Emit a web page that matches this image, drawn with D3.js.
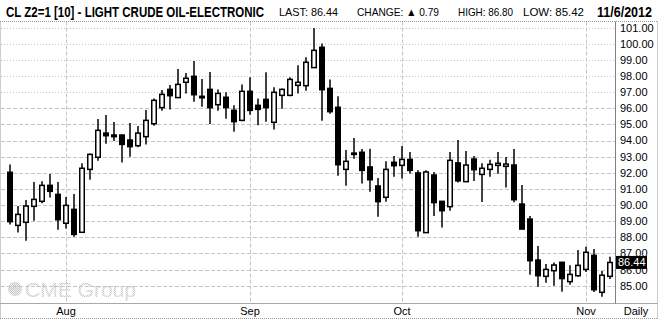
<!DOCTYPE html>
<html><head><meta charset="utf-8">
<script src="https://cdn.jsdelivr.net/npm/d3@7"></script>
<style>html,body{margin:0;padding:0;background:#fff;}svg{display:block;}</style>
</head><body>
<script>
const dates = [
"2012-07-23","2012-07-24","2012-07-25","2012-07-26","2012-07-27","2012-07-30","2012-07-31",
"2012-08-01","2012-08-02","2012-08-03","2012-08-06","2012-08-07","2012-08-08","2012-08-09","2012-08-10",
"2012-08-13","2012-08-14","2012-08-15","2012-08-16","2012-08-17","2012-08-20","2012-08-21","2012-08-22",
"2012-08-23","2012-08-24","2012-08-27","2012-08-28","2012-08-29","2012-08-30","2012-08-31",
"2012-09-04","2012-09-05","2012-09-06","2012-09-07","2012-09-10","2012-09-11","2012-09-12","2012-09-13",
"2012-09-14","2012-09-17","2012-09-18","2012-09-19","2012-09-20","2012-09-21","2012-09-24","2012-09-25",
"2012-09-26","2012-09-27","2012-09-28",
"2012-10-01","2012-10-02","2012-10-03","2012-10-04","2012-10-05","2012-10-08","2012-10-09","2012-10-10",
"2012-10-11","2012-10-12","2012-10-15","2012-10-16","2012-10-17","2012-10-18","2012-10-19","2012-10-22",
"2012-10-23","2012-10-24","2012-10-25","2012-10-26","2012-10-29","2012-10-30","2012-10-31",
"2012-11-01","2012-11-02","2012-11-05","2012-11-06"];
const openV  = [92.03,88.74,88.93,89.92,90.23,91.22,90.66,88.87,89.73,88.31,92.21,92.96,94.46,94.34,94.34,94.03,93.68,94.24,95.04,96.04,
97.17,96.66,97.61,97.98,96.74,97.17,96.22,96.68,95.87,95.25,97.05,96.18,96.55,95.13,96.80,96.80,97.42,97.40,98.52,99.78,
97.23,96.06,92.21,93.22,93.27,92.36,91.18,90.48,92.65,92.46,92.83,91.99,88.29,91.86,90.23,89.90,92.61,91.45,92.85,91.90,
92.21,92.46,92.40,92.48,90.06,89.13,86.59,85.58,85.93,86.45,85.25,85.62,86.01,86.88,84.59,85.58];
const highV  = [92.52,89.94,90.31,91.43,91.47,91.92,91.43,90.50,90.68,92.59,93.20,95.33,95.58,95.15,94.38,95.09,94.90,95.89,96.61,97.13,
97.44,98.43,98.19,98.93,97.81,98.25,97.17,96.99,96.18,97.48,97.92,96.61,98.23,97.30,97.23,97.92,98.66,99.16,100.98,100.02,
97.79,96.74,93.41,94.16,93.47,93.49,91.67,92.71,93.04,93.66,93.29,92.15,92.15,92.05,90.23,93.29,94.03,93.35,93.04,92.59,
92.81,93.29,92.98,93.47,91.24,89.32,87.46,86.34,86.43,86.47,86.26,87.21,87.42,87.27,85.91,86.80];
const lowV   = [88.80,88.29,87.79,89.03,90.11,90.46,88.47,88.54,88.04,88.31,91.57,92.75,93.80,93.97,92.63,93.00,93.58,93.76,94.92,95.85,
95.93,96.66,96.92,96.41,96.10,95.02,95.85,95.35,94.55,95.19,95.60,94.94,95.17,94.69,95.97,96.74,96.92,97.09,98.52,95.23,
95.66,91.82,91.20,92.87,91.33,90.83,89.28,90.21,91.76,91.64,91.95,88.04,88.29,89.32,88.60,89.65,91.39,91.45,91.49,90.19,
91.76,91.94,91.08,90.17,88.51,85.68,84.94,85.19,85.00,84.63,85.06,85.56,85.85,84.61,84.32,85.42];
const closeV = [88.97,89.42,89.94,90.35,91.22,90.85,89.09,89.98,88.18,92.28,93.14,94.63,94.30,94.24,93.76,93.62,94.46,95.25,96.49,96.86,
96.78,97.48,97.86,96.84,96.65,96.04,96.92,96.04,95.17,97.05,95.87,95.93,96.04,96.99,97.17,97.79,97.61,98.85,99.59,97.15,
95.79,92.50,92.71,93.14,92.15,91.57,90.21,92.21,92.44,92.83,92.15,88.41,92.05,90.15,89.65,92.77,91.50,92.48,92.19,92.28,
92.52,92.59,92.54,90.33,88.51,86.55,85.62,86.01,86.28,85.44,85.70,86.26,87.07,84.75,85.65,86.44];
const yTicks = [85,86,87,88,89,90,91,92,93,94,95,96,97,98,99,100,101];
const monthTicks = ["2012-08-01","2012-09-04","2012-10-01","2012-11-01"];
const monthLabels = ["Aug","Sep","Oct","Nov"];
const lastPrice = 86.44;
const headerTitle = "CL Z2=1 [10] - LIGHT CRUDE OIL-ELECTRONIC";
const headerItems = ["LAST: 86.44","CHANGE: \u25B2 0.79","HIGH: 86.80","LOW: 85.42"];
const headerDate = "11/6/2012";

const W = 661, H = 323;
const plotTop = 21.5, plotBottom = 303.5, axisX = 615.5, rightEdge = 657.5, bottomEdge = 318.5;
const svg = d3.select("body").append("svg").attr("width", W).attr("height", H);

const x = d3.scalePoint().domain(dates).range([10, 610]);
const y = d3.scaleLinear().domain([84, 102]).range([76 + 14*16.13, 76 - 4*16.13]);

// watermark pattern
const defs = svg.append("defs");
const pat = defs.append("pattern").attr("id","dots").attr("width",2).attr("height",2).attr("patternUnits","userSpaceOnUse");
pat.append("rect").attr("width",2).attr("height",2).attr("fill","#f2f2f2");
pat.append("rect").attr("width",1).attr("height",1).attr("fill","#c4c4c4");
pat.append("rect").attr("x",1).attr("y",1).attr("width",1).attr("height",1).attr("fill","#c4c4c4");

const wm = svg.append("g");
wm.append("circle").attr("cx",15).attr("cy",289).attr("r",7).attr("fill","url(#dots)");
wm.append("text").attr("x",25).attr("y",297).attr("font-family","Liberation Sans, Arial, sans-serif")
  .attr("font-size",21).attr("fill","url(#dots)").attr("textLength",111).attr("lengthAdjust","spacingAndGlyphs").text("CME Group");

// horizontal grid
svg.append("g").selectAll("line").data(yTicks).join("line")
  .attr("x1", 1).attr("x2", axisX)
  .attr("y1", d => Math.round(y(d)) + 0.5).attr("y2", d => Math.round(y(d)) + 0.5)
  .attr("stroke", "#c4c4c4").attr("stroke-width", 1)
  .attr("stroke-dasharray", d => d >= 97 ? "1,2" : "4,2");

// vertical month grid
svg.append("g").selectAll("line").data(monthTicks).join("line")
  .attr("x1", d => Math.round(x(d)) + 0.5).attr("x2", d => Math.round(x(d)) + 0.5)
  .attr("y1", plotTop).attr("y2", plotBottom)
  .attr("stroke", "#c4c4c4").attr("stroke-dasharray", "4,2");

// borders
const border = svg.append("g").attr("stroke","#9a9a9a").attr("stroke-dasharray","1,1").attr("fill","none");
border.append("line").attr("x1",0).attr("x2",rightEdge).attr("y1",plotTop).attr("y2",plotTop);
border.append("line").attr("x1",0).attr("x2",rightEdge).attr("y1",bottomEdge).attr("y2",bottomEdge);
border.append("line").attr("x1",rightEdge).attr("x2",rightEdge).attr("y1",plotTop).attr("y2",bottomEdge);
border.append("line").attr("x1",0.5).attr("x2",0.5).attr("y1",plotTop).attr("y2",bottomEdge);
svg.append("line").attr("x1",0).attr("x2",rightEdge).attr("y1",plotBottom).attr("y2",plotBottom).attr("stroke","#a8a8a8");
svg.append("line").attr("x1",axisX).attr("x2",axisX).attr("y1",plotTop).attr("y2",plotBottom).attr("stroke","#808080");

// candles
const idx = d3.range(dates.length);
const cg = svg.append("g");
cg.selectAll("line").data(idx).join("line")
  .attr("x1", i => x(dates[i])).attr("x2", i => x(dates[i]))
  .attr("y1", i => y(highV[i])).attr("y2", i => y(lowV[i]))
  .attr("stroke", "#000").attr("stroke-width", 1.5);
cg.selectAll("rect").data(idx).join("rect")
  .attr("x", i => x(dates[i]) - 2.25).attr("width", 4.5)
  .attr("y", i => y(Math.max(openV[i], closeV[i])))
  .attr("height", i => Math.max(1, y(Math.min(openV[i], closeV[i])) - y(Math.max(openV[i], closeV[i]))))
  .attr("fill", i => closeV[i] >= openV[i] ? "#fff" : "#000")
  .attr("stroke", "#000").attr("stroke-width", 1.5);

// y labels
svg.append("g").selectAll("text").data(yTicks).join("text")
  .attr("x", 620).attr("y", d => y(d)).attr("dy", "0.36em")
  .attr("font-family", "Liberation Sans, Arial, sans-serif").attr("font-size", 11).attr("fill", "#000")
  .text(d => d.toFixed(2));

// last price box
const ly = y(lastPrice);
svg.append("rect").attr("x", 616).attr("y", ly - 6.5).attr("width", 31).attr("height", 13).attr("fill", "#000");
svg.append("text").attr("x", 618).attr("y", ly).attr("dy","0.36em")
  .attr("font-family", "Liberation Sans, Arial, sans-serif").attr("font-size", 11).attr("fill", "#fff").text(lastPrice.toFixed(2));

// x labels
svg.append("g").selectAll("text").data(monthTicks).join("text")
  .attr("x", d => x(d)).attr("y", 315).attr("text-anchor","middle")
  .attr("font-family", "Liberation Sans, Arial, sans-serif").attr("font-size", 11).attr("fill","#000")
  .text((d,i) => monthLabels[i]);
svg.append("text").attr("x", 636).attr("y", 315).attr("text-anchor","middle")
  .attr("font-family", "Liberation Sans, Arial, sans-serif").attr("font-size", 11).text("Daily");

// header
const hf = "Liberation Sans Narrow, Liberation Sans, Arial, sans-serif";
svg.append("text").attr("x", 6).attr("y", 17).attr("font-family", hf).attr("font-weight","bold")
  .attr("font-size", 14).attr("textLength", 258).attr("lengthAdjust","spacingAndGlyphs").text(headerTitle);
const hx = [279, 357, 458, 523], hw = [59, 82, 55, 61];
svg.append("g").selectAll("text").data(headerItems).join("text")
  .attr("x", (d,i) => hx[i]).attr("y", 16).attr("font-family", "Liberation Sans, Arial, sans-serif")
  .attr("font-size", 11).attr("textLength", (d,i) => hw[i]).attr("lengthAdjust","spacingAndGlyphs").text(d => d);
svg.append("text").attr("x", 597).attr("y", 17).attr("font-family", hf).attr("font-weight","bold")
  .attr("font-size", 14).attr("textLength", 55).attr("lengthAdjust","spacingAndGlyphs").text(headerDate);
</script>
</body></html>
